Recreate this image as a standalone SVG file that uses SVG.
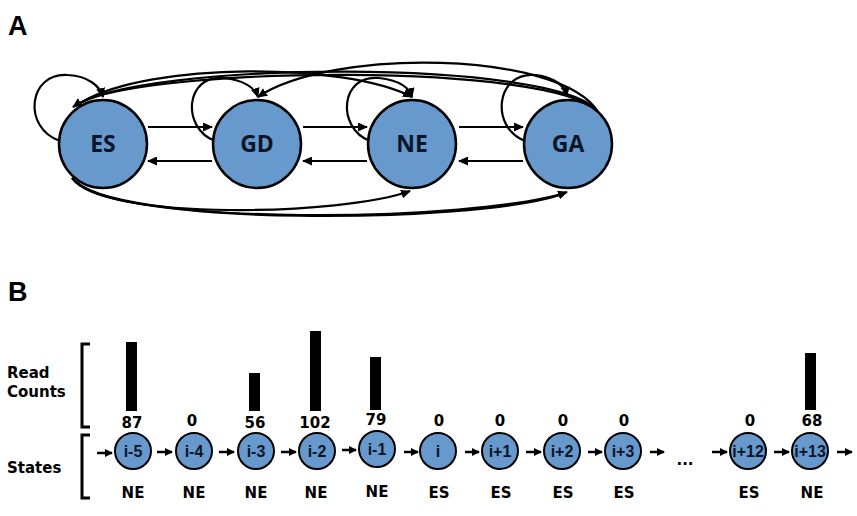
<svg xmlns="http://www.w3.org/2000/svg" width="857" height="516" viewBox="0 0 857 516">
<defs>
<marker id="ah" markerUnits="userSpaceOnUse" markerWidth="10" markerHeight="9" refX="9" refY="4.5" orient="auto">
<path d="M0,0 L10,4.5 L0,9 z" fill="#000"/>
</marker>
<marker id="ahs" markerUnits="userSpaceOnUse" markerWidth="8" markerHeight="8" refX="7" refY="4" orient="auto">
<path d="M0,0 L8,4 L0,8 z" fill="#000"/>
</marker>
<style>
.big{fill:#6899cd;stroke:#000;stroke-width:2.5}
.sm{fill:#6899cd;stroke:#000;stroke-width:2}
.nl{font-family:"Open Sans","DejaVu Sans",sans-serif;font-weight:bold;font-size:23px;fill:#0a1628;text-anchor:middle}
.e{fill:none;stroke:#000;stroke-width:2.2}
.ea{fill:none;stroke:#000;stroke-width:2.2;marker-end:url(#ah)}
.sa{fill:none;stroke:#000;stroke-width:2.5;marker-end:url(#ahs)}
.pl{font-family:"Liberation Sans",Arial,sans-serif;font-weight:bold;font-size:27px;fill:#000}
.lb{font-family:"DejaVu Sans",sans-serif;font-weight:bold;font-size:15px;fill:#000}
.num{font-family:"DejaVu Sans",sans-serif;font-weight:bold;font-size:15px;fill:#000;text-anchor:middle}
.cl{font-family:"Liberation Sans",Arial,sans-serif;font-weight:bold;font-size:16px;fill:#0a1628;text-anchor:middle}
.bar{fill:#000}
.br{fill:none;stroke:#000;stroke-width:3}
</style>
</defs>
<rect width="857" height="516" fill="#fff"/>
<text class="pl" x="8" y="35">A</text>
<text class="pl" x="8" y="301">B</text>

<g id="connectors">
<path class="ea" d="M148,127 L212,127"/>
<path class="ea" d="M303,127 L367,127"/>
<path class="ea" d="M459,127 L523,127"/>
<path class="ea" d="M212,161 L148,161"/>
<path class="ea" d="M367,161 L303,161"/>
<path class="ea" d="M523,161 L459,161"/>
<path class="ea" d="M60,141 C22,128 28,72 68,75 C88,76 100,86 103,97"/>
<path class="ea" d="M215,141 C181,128 185,74 224,78 C244,80 255,88 258,97"/>
<path class="ea" d="M370,141 C336,128 340,74 379,78 C399,80 410,88 412,97"/>
<path class="ea" d="M525,141 C490,128 495,71 536,75 C554,77 565,86 567,96"/>
<path class="ea" d="M598,112 C560,58 140,60 73,107"/>
<path class="e" d="M598,112 C555,62 150,66 80,103"/>
<path class="ea" d="M598,112 C560,50 330,48 258,97"/>
<path class="ea" d="M82,102 C150,62 345,62 412,97"/>
<path class="ea" d="M72,178 C105,222 345,215 410,191"/>
<path class="ea" d="M72,178 C110,228 480,222 567,192"/>
<path class="e" d="M75,181 C115,226 470,224 560,195"/>
</g>

<g id="node-ES"><circle class="big" cx="103" cy="144" r="44"/><text class="nl" x="103" y="152">ES</text></g>
<g id="node-GD"><circle class="big" cx="257" cy="144" r="44"/><text class="nl" x="257" y="152">GD</text></g>
<g id="node-NE"><circle class="big" cx="412" cy="144" r="44"/><text class="nl" x="412" y="152">NE</text></g>
<g id="node-GA"><circle class="big" cx="568" cy="144" r="44"/><text class="nl" x="568" y="152">GA</text></g>

<text class="lb" x="7" y="378">Read</text>
<text class="lb" x="7" y="397">Counts</text>
<text class="lb" x="7" y="473">States</text>
<path class="br" d="M90,344 L82,344 L82,427 L90,427"/>
<path class="br" d="M90,435 L82,435 L82,498 L90,498"/>

<g id="bars">
<rect class="bar" x="126" y="342" width="11" height="69"/>
<rect class="bar" x="249" y="373" width="11" height="38"/>
<rect class="bar" x="310" y="331" width="11" height="80"/>
<rect class="bar" x="370" y="357" width="11" height="53"/>
<rect class="bar" x="805" y="353" width="11" height="57"/>
</g>
<g id="counts">
<text class="num" x="132" y="428">87</text>
<text class="num" x="192" y="426">0</text>
<text class="num" x="255" y="428">56</text>
<text class="num" x="315" y="428">102</text>
<text class="num" x="376" y="425">79</text>
<text class="num" x="439" y="426">0</text>
<text class="num" x="500" y="426">0</text>
<text class="num" x="563" y="426">0</text>
<text class="num" x="624" y="426">0</text>
<text class="num" x="750" y="426">0</text>
<text class="num" x="812" y="426">68</text>
</g>

<g id="chain-connectors">
<path class="sa" d="M97,453 L112,453"/>
<path class="sa" d="M157,452 L172,452"/>
<path class="sa" d="M219,452 L234,452"/>
<path class="sa" d="M281,452 L296,452"/>
<path class="sa" d="M342,450 L356,450"/>
<path class="sa" d="M404,452 L418,452"/>
<path class="sa" d="M465,452 L479,452"/>
<path class="sa" d="M526,452 L541,452"/>
<path class="sa" d="M588,452 L602,452"/>
<path class="sa" d="M650,452 L664,452"/>
<path class="sa" d="M712,452 L727,452"/>
<path class="sa" d="M774,452 L789,452"/>
<path class="sa" d="M837,452 L852,452"/>
</g>
<text class="num" x="685" y="465">...</text>

<g id="s-i-5"><circle class="sm" cx="133" cy="451" r="18"/><text class="cl" x="133" y="457">i-5</text></g>
<g id="s-i-4"><circle class="sm" cx="194" cy="451" r="18"/><text class="cl" x="194" y="457">i-4</text></g>
<g id="s-i-3"><circle class="sm" cx="256" cy="451" r="18"/><text class="cl" x="256" y="457">i-3</text></g>
<g id="s-i-2"><circle class="sm" cx="317" cy="451" r="18"/><text class="cl" x="317" y="457">i-2</text></g>
<g id="s-i-1"><circle class="sm" cx="377" cy="449" r="18"/><text class="cl" x="377" y="455">i-1</text></g>
<g id="s-i"><circle class="sm" cx="438" cy="451" r="18"/><text class="cl" x="438" y="457">i</text></g>
<g id="s-i1"><circle class="sm" cx="500" cy="451" r="18"/><text class="cl" x="500" y="457">i+1</text></g>
<g id="s-i2"><circle class="sm" cx="562" cy="451" r="18"/><text class="cl" x="562" y="457">i+2</text></g>
<g id="s-i3"><circle class="sm" cx="623" cy="451" r="18"/><text class="cl" x="623" y="457">i+3</text></g>
<g id="s-i12"><circle class="sm" cx="748" cy="451" r="18"/><text class="cl" x="748" y="457">i+12</text></g>
<g id="s-i13"><circle class="sm" cx="810" cy="451" r="18"/><text class="cl" x="810" y="457">i+13</text></g>

<g id="state-labels">
<text class="num" x="133" y="498">NE</text>
<text class="num" x="194" y="498">NE</text>
<text class="num" x="256" y="498">NE</text>
<text class="num" x="316" y="498">NE</text>
<text class="num" x="377" y="497">NE</text>
<text class="num" x="439" y="498">ES</text>
<text class="num" x="501" y="498">ES</text>
<text class="num" x="563" y="498">ES</text>
<text class="num" x="624" y="498">ES</text>
<text class="num" x="749" y="498">ES</text>
<text class="num" x="812" y="498">NE</text>
</g>
</svg>
